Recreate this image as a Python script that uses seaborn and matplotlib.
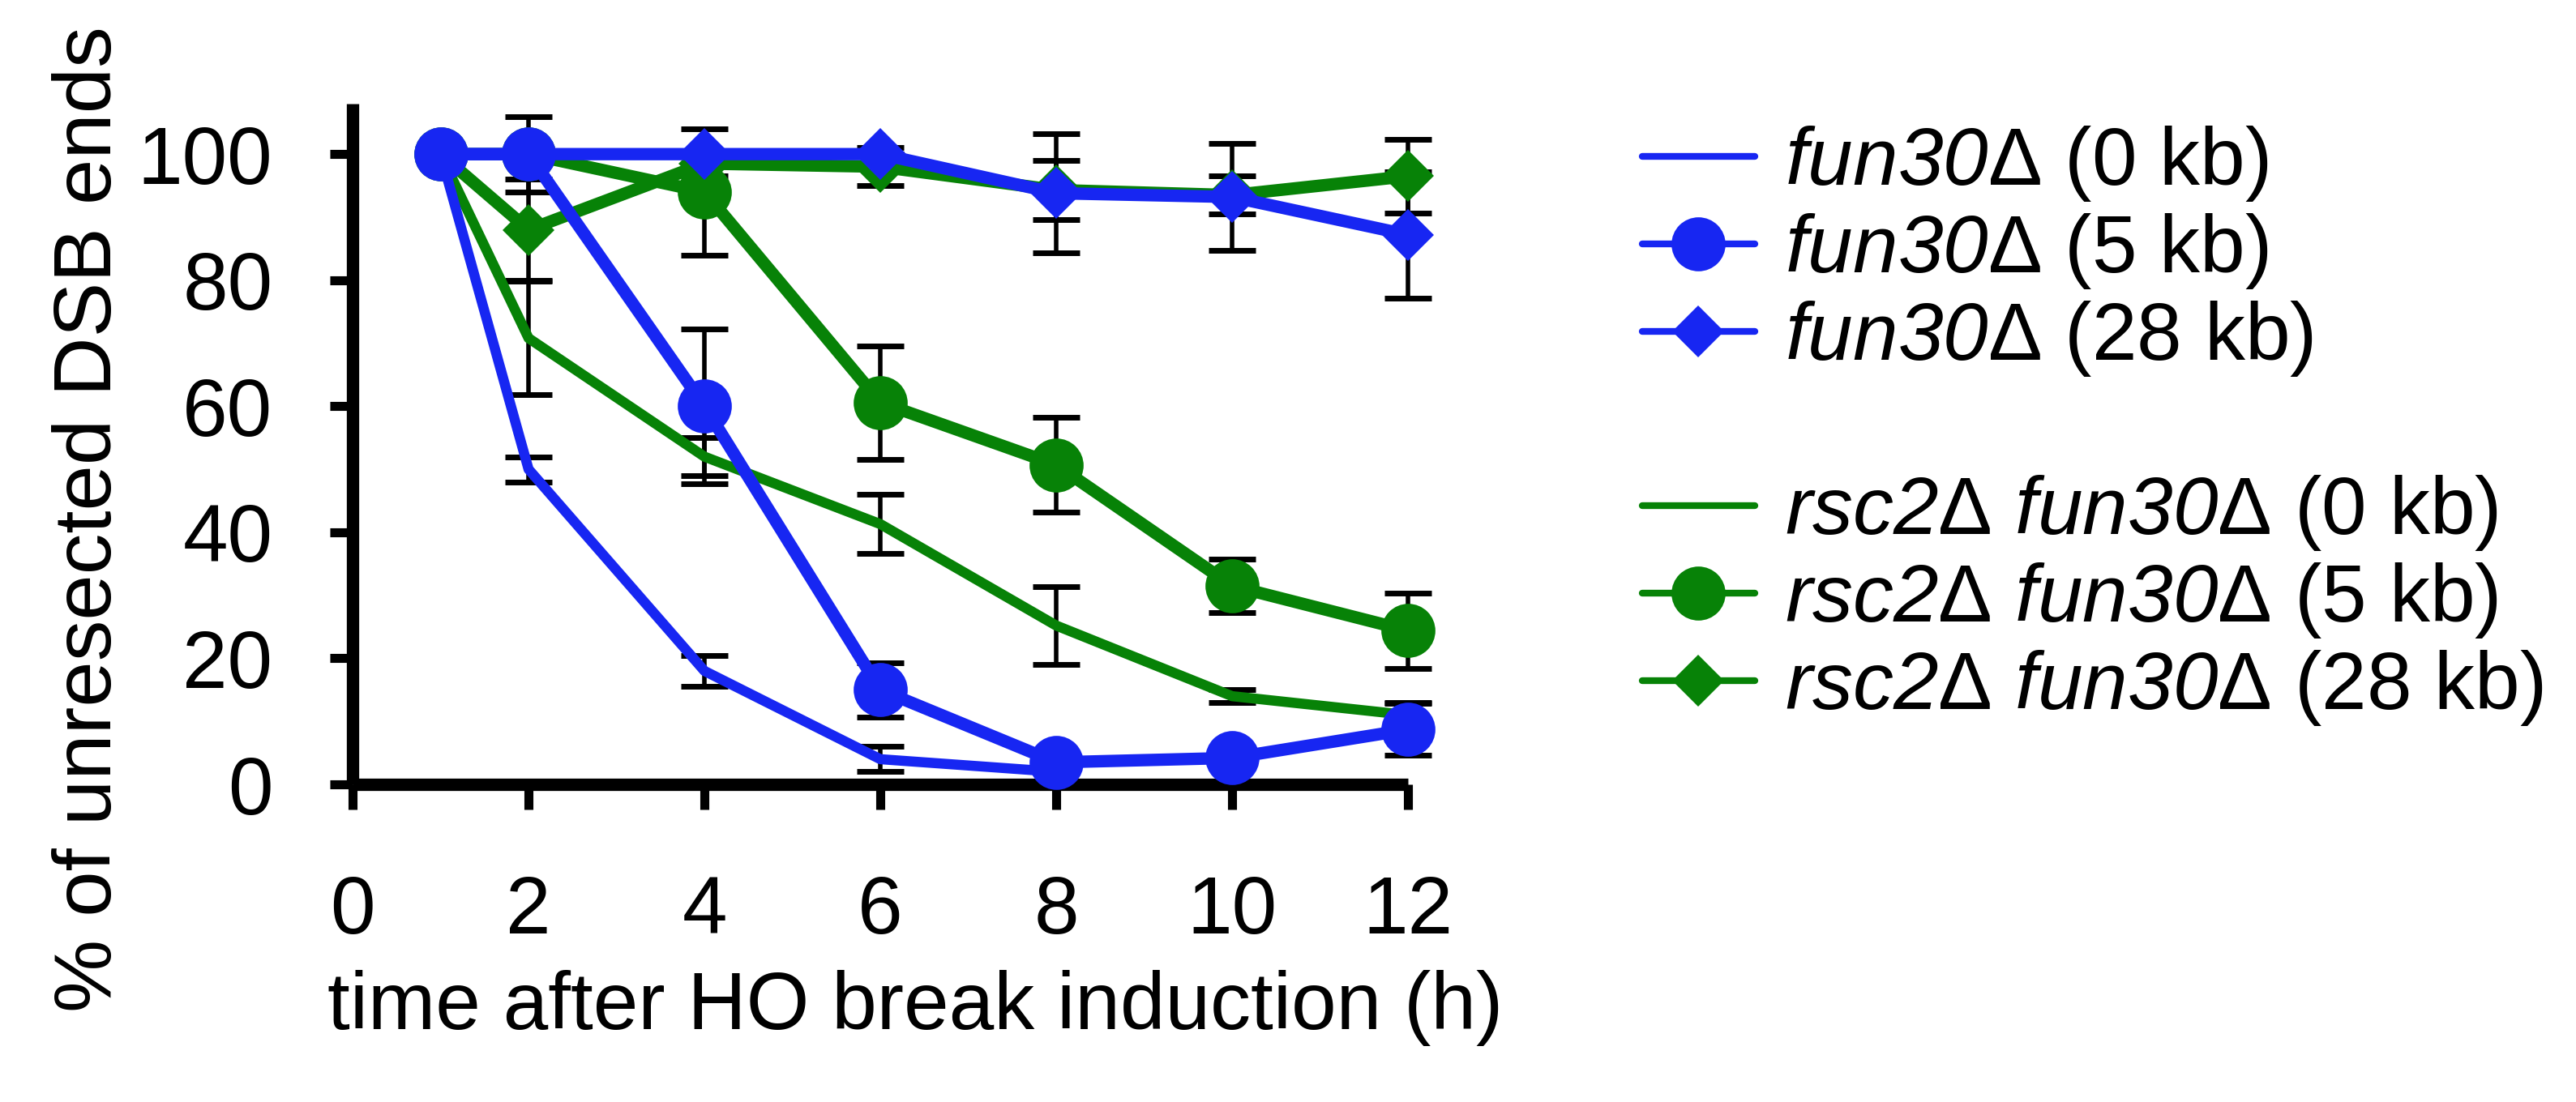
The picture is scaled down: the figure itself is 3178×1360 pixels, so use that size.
import numpy as np
import pandas as pd
import matplotlib
matplotlib.use("Agg")
import matplotlib.pyplot as plt
import seaborn as sns

# ---------------- data ----------------
time_h = [1, 2, 4, 6, 8, 10, 12]

fun30_0kb = [100, 50, 18, 4, 2, np.nan, np.nan]
fun30_0kb_err = [0, 2, 2.4, 2, 0, np.nan, np.nan]
fun30_5kb = [100, 100, 60, 15, 3.5, 4.2, 8.7]
fun30_5kb_err = [0, 6, 12.3, 4.3, 1, 1, 4.1]
fun30_28kb = [100, 100, 100, 100, 93.8, 93.2, 87.2]
fun30_28kb_err = [0, 0, 0, 0, 9.5, 8.5, 10]

rsc2_0kb = [100, 70.8, 52, 41.3, 25.2, 14, 11]
rsc2_0kb_err = [0, 9, 3, 4.7, 6.2, 1, 2]
rsc2_5kb = [100, 100, 94, 60.6, 50.7, 31.5, 24.4]
rsc2_5kb_err = [0, 0, 10, 9, 7.5, 4.2, 6]
rsc2_28kb = [100, 88, 98.5, 98, 94.3, 93.5, 96.5]
rsc2_28kb_err = [0, 8, 2, 3, 4.7, 3, 5.8]

series_names = ["fun30_0", "fun30_5", "fun30_28", "rsc2_0", "rsc2_5", "rsc2_28"]
# mathtext 'rm' slot is mapped to the italic face, 'sf' to the upright face
series_labels = [
    r"$\mathrm{fun30}\mathsf{Δ}$ (0 kb)",
    r"$\mathrm{fun30}\mathsf{Δ}$ (5 kb)",
    r"$\mathrm{fun30}\mathsf{Δ}$ (28 kb)",
    r"$\mathrm{rsc2}\mathsf{Δ}\ \mathrm{fun30}\mathsf{Δ}$ (0 kb)",
    r"$\mathrm{rsc2}\mathsf{Δ}\ \mathrm{fun30}\mathsf{Δ}$ (5 kb)",
    r"$\mathrm{rsc2}\mathsf{Δ}\ \mathrm{fun30}\mathsf{Δ}$ (28 kb)",
]
series_values = [fun30_0kb, fun30_5kb, fun30_28kb, rsc2_0kb, rsc2_5kb, rsc2_28kb]
series_errors = [fun30_0kb_err, fun30_5kb_err, fun30_28kb_err,
                 rsc2_0kb_err, rsc2_5kb_err, rsc2_28kb_err]

x_ticks = [0, 2, 4, 6, 8, 10, 12]
y_ticks = [0, 20, 40, 60, 80, 100]
x_label = "time after HO break induction (h)"
y_label = "% of unresected DSB ends"

# ---------------- styles ----------------
BLUE = "#1726f2"
GREEN = "#078207"
style = {
    "fun30_0": dict(color=BLUE, marker=None, lw=9, ms=0, z=3.2),
    "fun30_5": dict(color=BLUE, marker="o", lw=11, ms=48, z=3.4),
    "fun30_28": dict(color=BLUE, marker="D", lw=11, ms=33, z=3.3),
    "rsc2_0": dict(color=GREEN, marker=None, lw=9, ms=0, z=2.2),
    "rsc2_5": dict(color=GREEN, marker="o", lw=11, ms=48, z=2.4),
    "rsc2_28": dict(color=GREEN, marker="D", lw=11, ms=33, z=2.3),
}

rows = []
for name, label, vals, errs in zip(series_names, series_labels, series_values, series_errors):
    for t, v, e in zip(time_h, vals, errs):
        rows.append(dict(series=name, label=label, time=t, pct=v, err=e))
df = pd.DataFrame(rows)

sns.set_theme(style="ticks")
plt.rcParams["font.family"] = ["Liberation Sans", "DejaVu Sans"]
plt.rcParams["mathtext.fontset"] = "custom"
plt.rcParams["mathtext.rm"] = "Liberation Sans:italic"
plt.rcParams["mathtext.it"] = "Liberation Sans:italic"
plt.rcParams["mathtext.sf"] = "Liberation Sans"
plt.rcParams["mathtext.bf"] = "Liberation Sans:bold"
plt.rcParams["axes.linewidth"] = 11

fig = plt.figure(figsize=(31.78, 13.60), dpi=100)
ax = fig.add_axes([0.1369, 0.2882, 0.5466 - 0.1369, 0.9059 - 0.2882])

# error bars first (beneath the lines)
for name in series_names:
    sub = df[df.series == name].dropna(subset=["pct"])
    ax.errorbar(sub["time"], sub["pct"], yerr=sub["err"], fmt="none",
                ecolor="black", elinewidth=4, capsize=21, capthick=5,
                zorder=1.5, clip_on=False, label="_nolegend_")

# draw green group first, blue on top
for name in ["rsc2_0", "rsc2_5", "rsc2_28", "fun30_0", "fun30_5", "fun30_28"]:
    st = style[name]
    sub = df[df.series == name].dropna(subset=["pct"])
    kws = dict(color=st["color"], linewidth=st["lw"], clip_on=False,
               zorder=st["z"], label=sub["label"].iloc[0])
    if st["marker"]:
        kws.update(marker=st["marker"], markersize=st["ms"],
                   markeredgewidth=0, markeredgecolor=st["color"],
                   markerfacecolor=st["color"])
    sns.lineplot(data=sub, x="time", y="pct", estimator=None, sort=False,
                 legend=False, ax=ax, **kws)

ax.set_xlim(0, 12)
ax.set_ylim(0, 108)
ax.set_xticks(x_ticks)
ax.set_yticks(y_ticks)
ax.set_xticklabels([str(v) for v in x_ticks])
ax.set_yticklabels([str(v) for v in y_ticks])
sns.despine(ax=ax)
for sp in ["left", "bottom"]:
    ax.spines[sp].set_linewidth(11)
    ax.spines[sp].set_color("black")
    ax.spines[sp].set_capstyle("butt")

ax.tick_params(axis="y", direction="out", length=20, width=8, pad=51,
               labelsize=72, colors="black")
ax.tick_params(axis="x", direction="out", length=22, width=8, pad=58,
               labelsize=72, colors="black")

ax.set_ylabel(y_label, fontsize=73, color="black", va="baseline")
ax.yaxis.set_label_coords(-0.2289, 0.39)
ax.set_xlabel(x_label, fontsize=72, color="black", va="baseline")
ax.xaxis.set_label_coords(0.533, -0.36)

# legends
handles, labels = ax.get_legend_handles_labels()
hmap = dict(zip(labels, handles))
common = dict(loc="center left", frameon=False, fontsize=72,
              handlelength=1.39, handletextpad=0.37, labelspacing=0.1,
              borderpad=0, borderaxespad=0)
leg1 = fig.legend([hmap[l] for l in series_labels[:3]], series_labels[:3],
                  bbox_to_anchor=(0.6375, 0.772), **common)
leg2 = fig.legend([hmap[l] for l in series_labels[3:]], series_labels[3:],
                  bbox_to_anchor=(0.6375, 0.455), **common)
for leg in (leg1, leg2):
    for ln in leg.get_lines():
        ln.set_linewidth(6)
    for t in leg.get_texts():
        t.set_color("black")

fig.savefig("out.png", dpi=100, facecolor="white")
